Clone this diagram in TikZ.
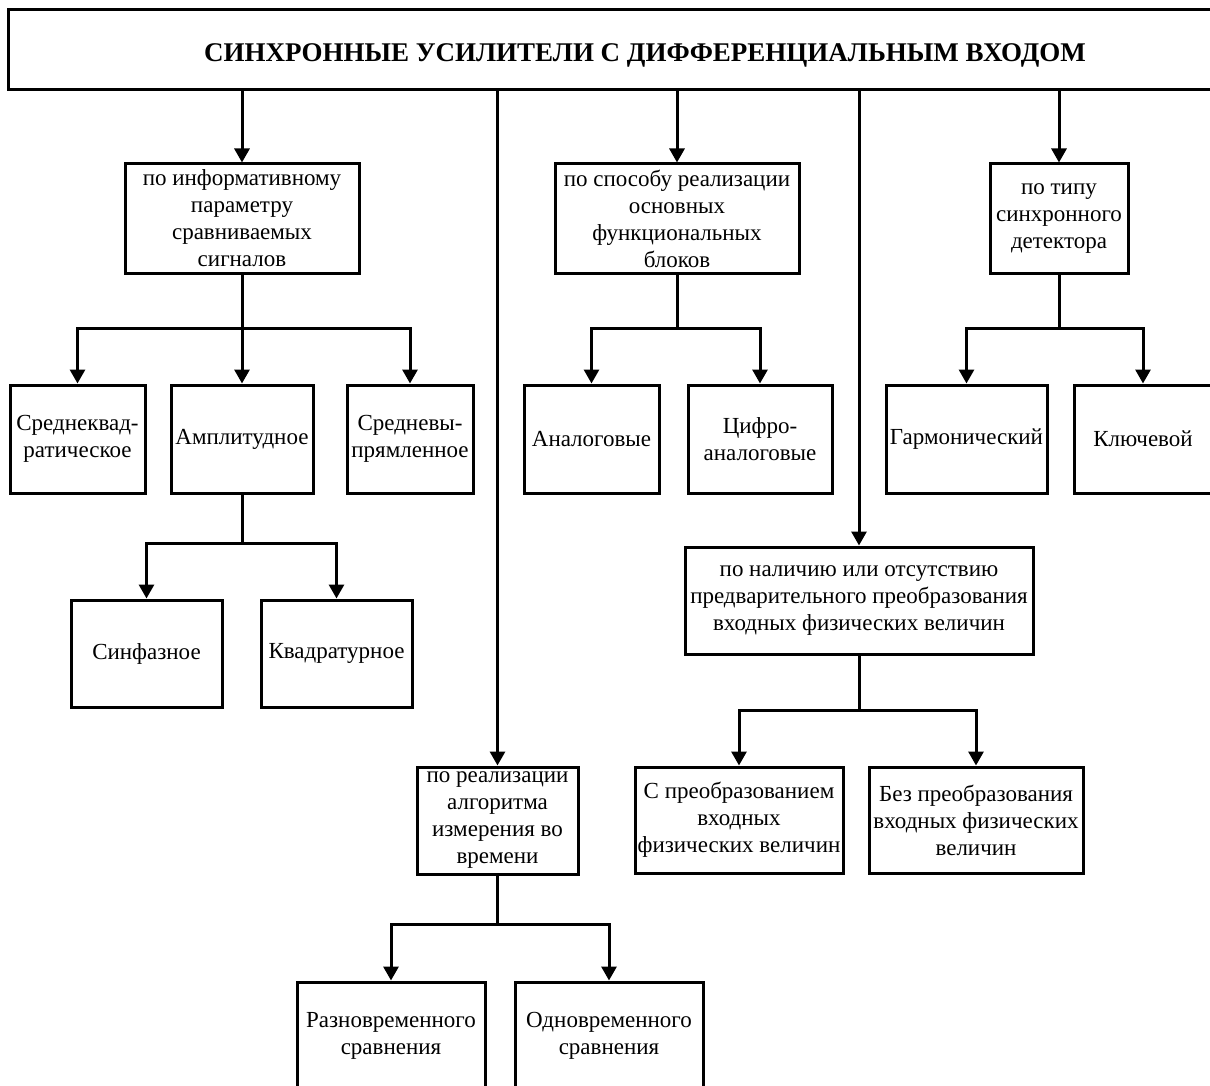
\documentclass[tikz,border=0pt]{standalone}
\usepackage{fontspec}
\setmainfont{Liberation Serif}
\usetikzlibrary{arrows.meta}
\tikzset{
  box/.style={draw, line width=3pt, rectangle, inner sep=1pt, align=center,
    font=\fontsize{23}{27}\selectfont},
  titlebox/.style={draw, line width=3pt, rectangle, inner sep=1pt, align=center,
    font=\bfseries\fontsize{27}{32}\selectfont, text height=24pt, text depth=0pt},
  ln/.style={line width=3pt},
  arr/.style={line width=3pt, -{Triangle[length=14pt,width=15pt]}}
}
\newcommand{\bx}[7]{% name, left, right, top, bottom, style, text
  \node[#6, minimum width={#3-#2}, minimum height={#5-#4}] (#1) at ({(#2+#3)/2},{(#4+#5)/2}) {#7};}
\begin{document}
\begin{tikzpicture}[x=1pt,y=-1pt]
\useasboundingbox (0,0) rectangle (1210,1086);
\clip (0,0) rectangle (1210,1086);
\fill[white] (0,0) rectangle (1210,1086);

\bx{title}{8}{1282}{10}{90}{titlebox}{СИНХРОННЫЕ УСИЛИТЕЛИ С ДИФФЕРЕНЦИАЛЬНЫМ ВХОДОМ}

\bx{A}{125}{359}{164}{273}{box}{по информативному\\параметру\\сравниваемых\\сигналов}
\bx{B}{555}{799}{164}{273}{box}{по способу реализации\\основных\\функциональных\\блоков}
\bx{C}{990}{1128}{164}{273}{box}{по типу\\синхронного\\детектора}

\bx{a1}{10}{145}{385}{493}{box}{Среднеквад-\\ратическое}
\bx{a2}{171}{313}{385}{493}{box}{Амплитудное}
\bx{a3}{347}{473}{385}{493}{box}{Средневы-\\прямленное}

\bx{a21}{71}{222}{600}{707}{box}{Синфазное}
\bx{a22}{261}{412}{600}{707}{box}{Квадратурное}

\bx{b1}{524}{659}{385}{493}{box}{Аналоговые}
\bx{b2}{688}{832}{385}{493}{box}{Цифро-\\аналоговые}

\bx{c1}{886}{1047}{385}{493}{box}{Гармонический}
\bx{c2}{1074}{1212}{385}{493}{box}{Ключевой}

\bx{D}{685}{1033}{547}{654}{box}{по наличию или отсутствию\\предварительного преобразования\\входных физических величин}
\bx{d1}{635}{843}{767}{873}{box}{С преобразованием\\входных\\физических величин}
\bx{d2}{869}{1083}{767}{873}{box}{Без преобразования\\входных физических\\величин}

\bx{E}{417}{578}{767}{874}{box}{по реализации\\алгоритма\\измерения во\\времени}
\bx{e1}{297}{485}{982}{1090}{box}{Разновременного\\сравнения}
\bx{e2}{515}{703}{982}{1090}{box}{Одновременного\\сравнения}

% drops from title
\draw[arr] (A.north |- title.south) -- (A.north);
\draw[arr] (E.north |- title.south) -- (E.north);
\draw[arr] (B.north |- title.south) -- (B.north);
\draw[arr] (D.north |- title.south) -- (D.north);
\draw[arr] (C.north |- title.south) -- (C.north);

% buses
\coordinate (busA) at (242,328);
\draw[ln] (A.south) -- (busA);
\draw[arr] (busA) -| (a1.north);
\draw[arr] (busA) -- (a2.north);
\draw[arr] (busA) -| (a3.north);

\coordinate (busa2) at (242,543);
\draw[ln] (a2.south) -- (busa2);
\draw[arr] (busa2) -| (a21.north);
\draw[arr] (busa2) -| (a22.north);

\coordinate (busB) at (677,328);
\draw[ln] (B.south) -- (busB);
\draw[arr] (busB) -| (b1.north);
\draw[arr] (busB) -| (b2.north);

\coordinate (busC) at (1059,328);
\draw[ln] (C.south) -- (busC);
\draw[arr] (busC) -| (c1.north);
\draw[arr] (busC) -| (c2.north);

\coordinate (busD) at (859,710);
\draw[ln] (D.south) -- (busD);
\draw[arr] (busD) -| (d1.north);
\draw[arr] (busD) -| (d2.north);

\coordinate (busE) at (497.5,924);
\draw[ln] (E.south) -- (busE);
\draw[arr] (busE) -| (e1.north);
\draw[arr] (busE) -| (e2.north);
\end{tikzpicture}
\end{document}
